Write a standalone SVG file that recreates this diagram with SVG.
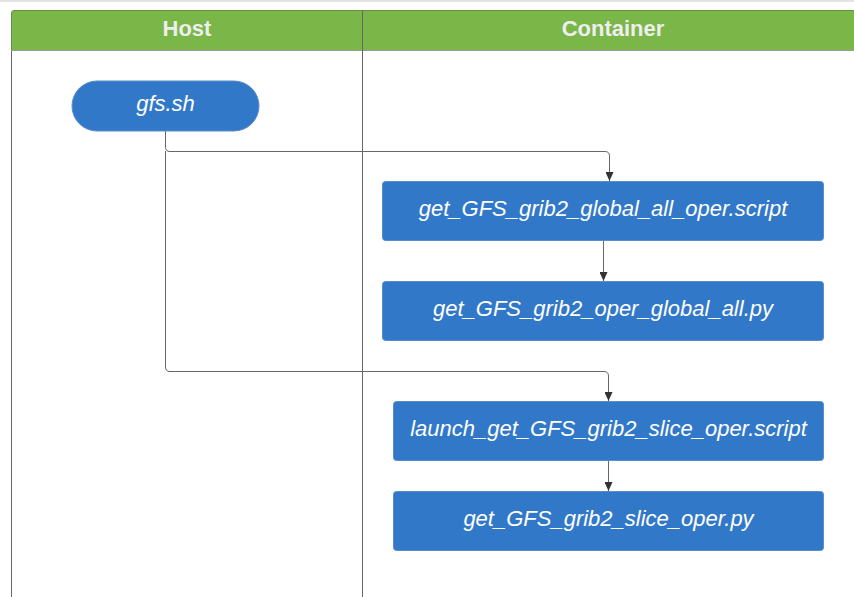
<svg xmlns="http://www.w3.org/2000/svg" width="854" height="597" viewBox="0 0 854 597">
<defs>
<style>
.node{fill:#3278c9;stroke:#5a8cc8;stroke-width:1}
.lbl{font-family:"Liberation Sans",Arial,sans-serif;font-size:22px;font-style:italic;fill:#ffffff;text-anchor:middle}
.hdr{font-family:"Liberation Sans",Arial,sans-serif;font-size:22px;font-weight:bold;fill:#eeeeee;text-anchor:middle}
.conn{fill:none;stroke:#666666;stroke-width:1}
.lane{fill:none;stroke:#666666;stroke-width:1}
</style>
<marker id="arr" markerWidth="10" markerHeight="8" refX="9" refY="4" orient="auto" markerUnits="userSpaceOnUse" viewBox="0 0 10 8">
<path d="M0,0 L9,4 L0,8 Z" fill="#333333"/>
</marker>
</defs>
<rect x="0" y="0" width="854" height="597" fill="#ffffff"/>
<line x1="0" y1="1" x2="854" y2="1" stroke="#e4e4e4" stroke-width="2"/>
<g id="pool">
<path d="M11.5,50.5 V13 Q11.5,10.5 14,10.5 H854 V50.5 Z" fill="#7ab648"/>
<path d="M11.5,50.5 V13 Q11.5,10.5 14,10.5 H854" fill="none" stroke="#6a8f4a"/>
<line x1="11.5" y1="50.5" x2="854" y2="50.5" stroke="#999999"/>
<line x1="11.5" y1="51" x2="11.5" y2="597" class="lane"/>
<line x1="362.5" y1="10.5" x2="362.5" y2="597" class="lane"/>
<text x="187" y="36" class="hdr">Host</text>
<text x="613" y="36" class="hdr">Container</text>
</g>
<g id="connectors">
<path class="conn" d="M165.5,131 V147 Q165.5,151.5 170,151.5 H605 Q609.5,151.5 609.5,156 V181" marker-end="url(#arr)"/>
<path class="conn" d="M165.5,151 V367 Q165.5,371.5 170,371.5 H604 Q608.5,371.5 608.5,376 V401" marker-end="url(#arr)"/>
<path class="conn" d="M603.5,241 V281" marker-end="url(#arr)"/>
<path class="conn" d="M608.5,461 V491" marker-end="url(#arr)"/>
</g>
<g id="gfs_sh">
<rect x="72" y="81" width="187" height="50" rx="25" ry="25" class="node"/>
<text x="165.5" y="111" class="lbl">gfs.sh</text>
</g>
<g id="global_script">
<rect x="382.5" y="181.5" width="441" height="59" rx="3" class="node"/>
<text x="603" y="216" class="lbl">get_GFS_grib2_global_all_oper.script</text>
</g>
<g id="global_py">
<rect x="382.5" y="281.5" width="441" height="59" rx="3" class="node"/>
<text x="603" y="316" class="lbl">get_GFS_grib2_oper_global_all.py</text>
</g>
<g id="slice_script">
<rect x="393.5" y="401.5" width="430" height="59" rx="3" class="node"/>
<text x="608.5" y="436" class="lbl">launch_get_GFS_grib2_slice_oper.script</text>
</g>
<g id="slice_py">
<rect x="393.5" y="491.5" width="430" height="59" rx="3" class="node"/>
<text x="608.5" y="526" class="lbl">get_GFS_grib2_slice_oper.py</text>
</g>
</svg>
